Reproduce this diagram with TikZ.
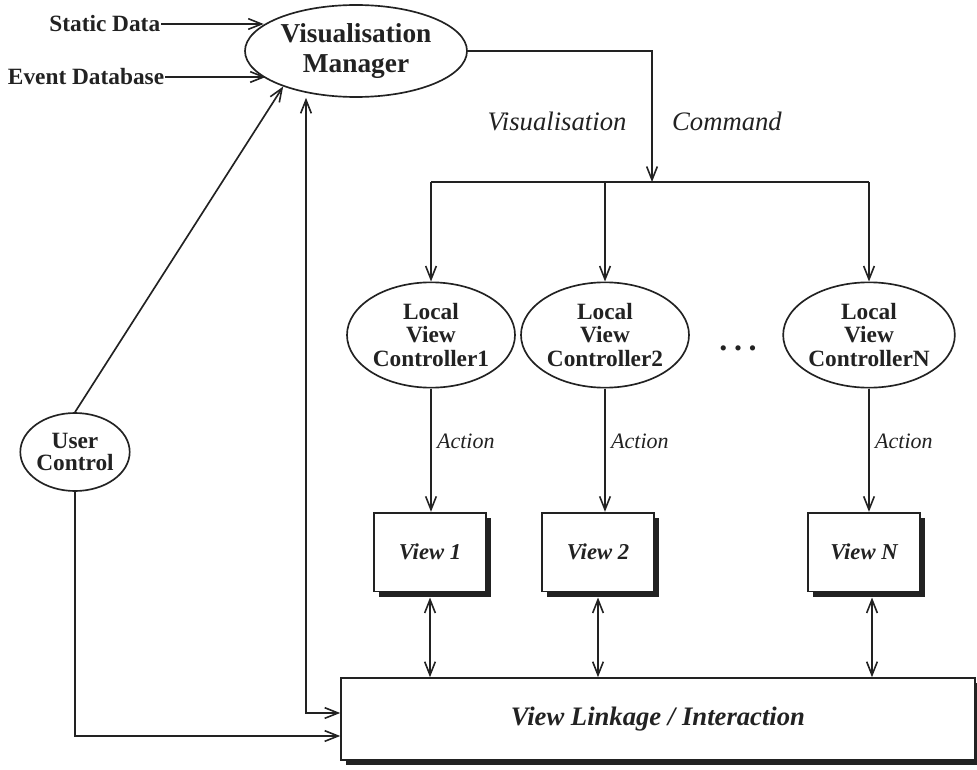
\documentclass[tikz,border=0pt]{standalone}
\usepackage{fontspec}
\setmainfont{Liberation Serif}
\usetikzlibrary{arrows.meta,shapes.geometric,shadows,calc}

\definecolor{ink}{HTML}{222222}

\tikzset{
  barb/.tip={Straight Barb[length=10pt,width=8pt,line width=1.2pt]},
  arr/.style={-barb},
  arrboth/.style={barb-barb},
  ell/.style={ellipse, draw, fill=white, inner sep=0pt, align=center, text=ink},
  lvc/.style={ell, minimum width=126pt, minimum height=79pt,
    font=\fontsize{17.5}{17.5}\selectfont\bfseries},
  viewbox/.style={draw, fill=white, inner sep=0pt, text=ink,
    minimum width=84pt, minimum height=59pt,
    font=\fontsize{17}{18}\selectfont\bfseries\itshape,
    drop shadow={shadow xshift=4pt, shadow yshift=-4pt, fill=ink, opacity=1}},
  inlabel/.style={inner sep=0pt, text=ink, font=\fontsize{17.5}{18}\selectfont\bfseries},
  actlabel/.style={inner sep=0pt, text=ink, font=\fontsize{16.5}{18}\selectfont\itshape},
  cmdlabel/.style={inner sep=0pt, text=ink, font=\fontsize{20}{22}\selectfont\itshape},
}

\begin{document}
\begin{tikzpicture}[x=0.75pt, y=-0.75pt, line width=1.25pt, draw=ink]
\useasboundingbox (0,0) rectangle (977,770);

% Manager and its inputs
\node[ell, minimum width=166.5pt, minimum height=69pt,
      font=\fontsize{20.5}{22}\selectfont\bfseries] (vm) at (356,51) {Visualisation\\Manager};
\node[inlabel, anchor=east] (sd) at (161,24) {Static Data};
\node[inlabel, anchor=east] (ed) at (165,77) {Event Database};
\draw[arr] (sd.east) -- (sd.east -| vm.164);
\draw[arr] (ed.east) -- (ed.east -| vm.197);

% User control
\node[ell, minimum width=79.5pt, minimum height=58.5pt,
      font=\fontsize{17.5}{16}\selectfont\bfseries] (uc) at (75,452) {User\\Control};

% Local view controllers
\node[lvc] (l1) at (431,335) {Local\\View\\Controller1};
\node[lvc] (l2) at (605,335) {Local\\View\\Controller2};
\node[lvc] (ln) at (869,335) {Local\\View\\ControllerN};
\node[text=ink, inner sep=0pt, font=\fontsize{24}{24}\selectfont\bfseries] (dots) at (738,348)
  {.\hspace{5pt}.\hspace{5pt}.};

% Views
\node[viewbox] (v1) at (430,552) {View 1};
\node[viewbox] (v2) at (598,552) {View 2};
\node[viewbox] (vn) at (864,552) {View N};

% Linkage box
\node[draw, fill=white, inner sep=0pt, minimum width=475.5pt, minimum height=61.5pt,
      text=ink, font=\fontsize{20}{22}\selectfont\bfseries\itshape,
      drop shadow={shadow xshift=4pt, shadow yshift=-4pt, fill=ink, opacity=1}]
      (link) at (658,719) {View Linkage / Interaction};

% Command distribution
\coordinate (cmd) at (652,182);
\draw[arr] (vm.east) -| (cmd);
\node[cmdlabel] (cmdl1) at (557,121) {Visualisation};
\node[cmdlabel] (cmdl2) at (727,121) {Command};
\draw (l1 |- cmd) -- (ln |- cmd);
\draw[arr] (l1 |- cmd) -- (l1.north);
\draw[arr] (l2 |- cmd) -- (l2.north);
\draw[arr] (ln |- cmd) -- (ln.north);

% Actions
\draw[arr] (l1.south) -- (l1.south |- v1.north)
  node[actlabel, pos=0.43, anchor=west, xshift=4pt] {Action};
\draw[arr] (l2.south) -- (l2.south |- v2.north)
  node[actlabel, pos=0.43, anchor=west, xshift=4pt] {Action};
\draw[arr] (ln.south) -- (ln.south |- vn.north)
  node[actlabel, pos=0.43, anchor=west, xshift=4pt] {Action};

% View <-> linkage
\draw[arrboth] ([yshift=-4pt]v1.south) -- (v1.south |- link.north);
\draw[arrboth] ([yshift=-4pt]v2.south) -- (v2.south |- link.north);
\draw[arrboth] ([xshift=6pt,yshift=-4pt]vn.south) -- ([xshift=6pt]vn.south |- link.north);

% User control links
\draw[arr] (uc.north) -- (vm.206);
\draw[arr] (uc.south) |- ([yshift=-12.75pt]link.west);
\coordinate (fb) at (306,713);
\draw[arrboth] (fb |- vm.south) -- (fb) -- (fb -| link.west);
\end{tikzpicture}
\end{document}
